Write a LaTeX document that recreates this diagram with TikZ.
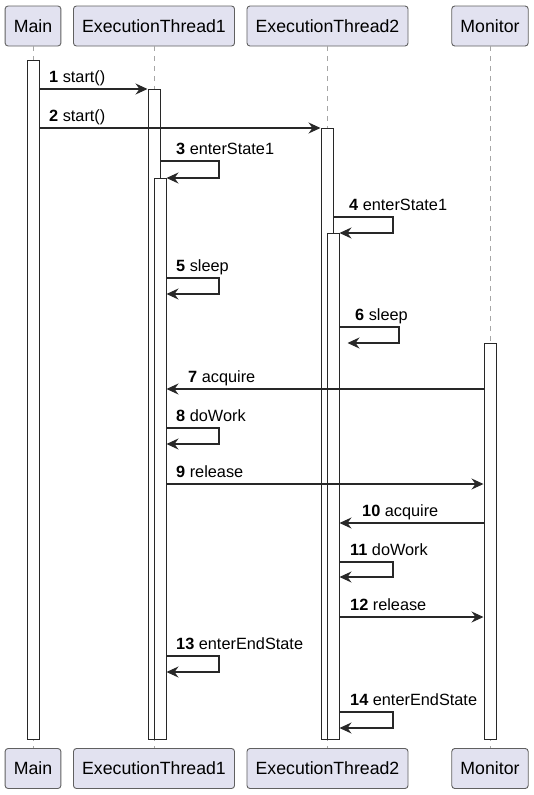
\documentclass[tikz,border=0pt]{standalone}
\usepackage{fontspec}
\setmainfont{Liberation Sans}
\usetikzlibrary{arrows.meta, positioning}
\definecolor{partfill}{HTML}{E2E2F0}
\definecolor{linecol}{HTML}{282828}

\tikzset{
  part/.style={draw=gray!75!black, fill=partfill, rounded corners=3pt,
    minimum height=40, inner xsep=8.7pt, line width=0.9pt,
    font=\fontsize{17.7}{20}\selectfont},
  lifeline/.style={draw=gray!70, dash pattern=on 5pt off 5pt, line width=0.7pt},
  actbar/.style={draw=linecol, fill=white, minimum width=12, inner sep=0pt,
    anchor=north, line width=1pt},
  msg/.style={draw=linecol, line width=1.1pt,
    -{Stealth[length=12pt, width=11pt, inset=4pt]}},
  lbl/.style={anchor=base west, inner sep=0pt, font=\fontsize{16.3}{19}\selectfont}
}

\begin{document}
\begin{tikzpicture}[x=1pt, y=-1pt]
      \useasboundingbox (0,0) rectangle (534,795);
      % participants, top and bottom, with their lifelines
      \foreach \id/\x/\name in {main/33/Main, t1/154/ExecutionThread1,
                                t2/327.5/ExecutionThread2, mon/490/Monitor}
      {
        \node[part] (\id-top) at (\x,26) {\name};
        \node[part] (\id-bot) at (\x,768.5) {\name};
        \draw[lifeline] (\id-top) -- (\id-bot);
      }
      % activation bars
      \node[actbar, minimum height=679] (main-act) at (33,60) {};
      \node[actbar, minimum height=650] (t1-act) at (154,89) {};
      \node[actbar, minimum height=561] (t1-act2) at (160,178) {};
      \node[actbar, minimum height=611] (t2-act) at (327,128) {};
      \node[actbar, minimum height=506] (t2-act2) at (333,233) {};
      \node[actbar, minimum height=396] (mon-act) at (490,343) {};
      % messages
      \draw[msg] (main-act.east |- 0,89) -- (t1-act.west |- 0,89);
      \node[lbl] (l1) at (49,82.3) {\textbf{1} start()};
      \draw[msg] (main-act.east |- 0,128) -- (t2-act.west |- 0,128);
      \node[lbl] (l2) at (49,121.3) {\textbf{2} start()};
      \draw[msg] (t1-act.east |- 0,161) -- (219,161) |- (t1-act2.east |- 0,178);
      \node[lbl] (l3) at (176,154.3) {\textbf{3} enterState1};
      \draw[msg] (t2-act.east |- 0,217) -- (393,217) |- (t2-act2.east |- 0,233);
      \node[lbl] (l4) at (349,210.3) {\textbf{4} enterState1};
      \draw[msg] (t1-act2.east |- 0,278) -- (219,278) |- (t1-act2.east |- 0,294);
      \node[lbl] (l5) at (176,271.3) {\textbf{5} sleep};
      \draw[msg] (t2-act2.east |- 0,327) -- (399,327) |- ([xshift=8]t2-act2.east |- 0,343);
      \node[lbl] (l6) at (355,320.3) {\textbf{6} sleep};
      \draw[msg] (mon-act.west |- 0,389) -- (t1-act2.east |- 0,389);
      \node[lbl] (l7) at (188,382.3) {\textbf{7} acquire};
      \draw[msg] (t1-act2.east |- 0,428) -- (219,428) |- (t1-act2.east |- 0,444);
      \node[lbl] (l8) at (176,421.3) {\textbf{8} doWork};
      \draw[msg] (t1-act2.east |- 0,484) -- (mon-act.west |- 0,484);
      \node[lbl] (l9) at (176,477.3) {\textbf{9} release};
      \draw[msg] (mon-act.west |- 0,523) -- (t2-act2.east |- 0,523);
      \node[lbl] (l10) at (362,516.3) {\textbf{10} acquire};
      \draw[msg] (t2-act2.east |- 0,562) -- (393,562) |- (t2-act2.east |- 0,577);
      \node[lbl] (l11) at (350,555.3) {\textbf{11} doWork};
      \draw[msg] (t2-act2.east |- 0,617) -- (mon-act.west |- 0,617);
      \node[lbl] (l12) at (350,610.3) {\textbf{12} release};
      \draw[msg] (t1-act2.east |- 0,656) -- (219,656) |- (t1-act2.east |- 0,672);
      \node[lbl] (l13) at (176,649.3) {\textbf{13} enterEndState};
      \draw[msg] (t2-act2.east |- 0,712) -- (393,712) |- (t2-act2.east |- 0,728);
      \node[lbl] (l14) at (350,705.3) {\textbf{14} enterEndState};
\end{tikzpicture}
\end{document}
